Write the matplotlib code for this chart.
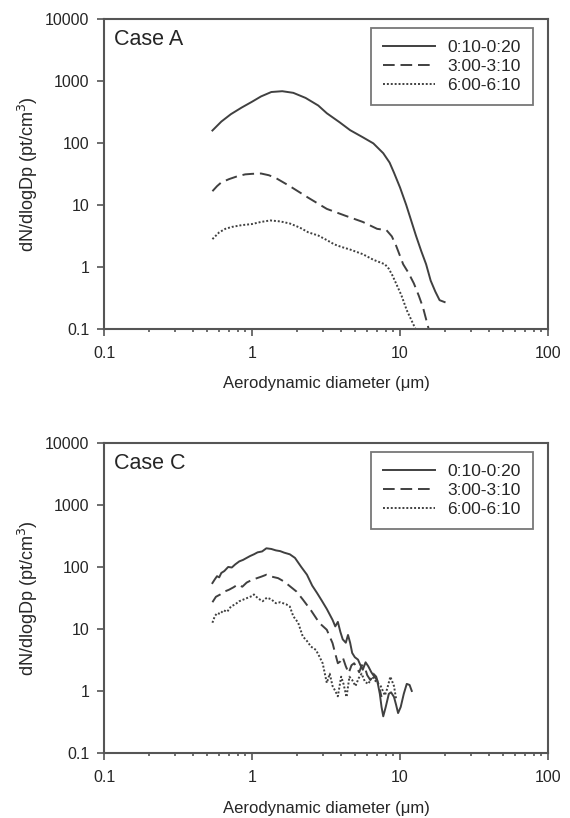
import numpy as np
import matplotlib
matplotlib.use('Agg')
import matplotlib.pyplot as plt
from matplotlib.ticker import LogLocator, FixedFormatter, FixedLocator, NullFormatter

plt.rcParams['font.family'] = ['Liberation Sans', 'DejaVu Sans']

# legend labels
labels = ['0:10-0:20', '3:00-3:10', '6:00-6:10']

# Case A
a1_x = [0.54, 0.62, 0.72, 0.85, 1.0, 1.15, 1.35, 1.6, 1.9, 2.3, 2.8, 3.2, 3.9, 4.6, 5.6, 6.6, 7.7, 8.5, 9.1, 10.0, 11.0, 11.7, 12.8, 13.9, 15.0, 16.1, 17.3, 18.5, 20.0]
a1_y = [158, 220, 290, 370, 460, 560, 660, 680, 640, 530, 400, 300, 215, 160, 123, 98, 68, 48, 33, 19, 10, 6.3, 3.2, 1.8, 1.1, 0.6, 0.4, 0.29, 0.27]

a2_x = [0.54, 0.58, 0.62, 0.7, 0.8, 0.9, 1.0, 1.15, 1.3, 1.45, 1.8, 2.4, 3.2, 4.25, 5.6, 7.0, 8.1, 8.8, 9.4, 10.5, 11.4, 12.4, 13.4, 14.3, 15.6]
a2_y = [16.6, 20, 23, 26, 29, 31, 31.6, 32, 30, 27, 20, 13, 8.6, 6.7, 5.3, 4.1, 3.9, 3.1, 2.2, 1.1, 0.8, 0.54, 0.34, 0.22, 0.1]

a3_x = [0.54, 0.6, 0.66, 0.73, 0.85, 1.0, 1.15, 1.33, 1.55, 1.8, 2.1, 2.4, 2.8, 3.2, 3.6, 4.0, 4.6, 5.6, 6.6, 7.9, 8.4, 8.9, 9.4, 10.2, 11.1, 11.9, 12.7]
a3_y = [2.8, 3.6, 4.1, 4.4, 4.7, 4.9, 5.3, 5.6, 5.4, 5.0, 4.3, 3.6, 3.2, 2.7, 2.3, 2.1, 1.9, 1.6, 1.3, 1.1, 0.93, 0.72, 0.54, 0.35, 0.2, 0.14, 0.1]

# Case C
c1_x = [0.54, 0.56, 0.58, 0.6, 0.62, 0.65, 0.69, 0.73, 0.77, 0.82, 0.87, 0.92, 0.97, 1.03, 1.09, 1.17, 1.25, 1.35, 1.45, 1.55, 1.65, 1.8, 1.95, 2.15, 2.35, 2.55, 2.75, 2.95, 3.2, 3.5, 3.65, 3.8, 3.95, 4.1, 4.3, 4.45, 4.6, 4.75, 4.95, 5.2, 5.4, 5.6, 5.85, 6.1, 6.4, 6.7, 7.0, 7.3, 7.5, 7.7, 8.0, 8.4, 8.7, 9.1, 9.4, 9.7, 10.1, 10.6, 11.1, 11.6, 12.0]
c1_y = [55, 63, 71, 68, 80, 86, 100, 98, 110, 123, 130, 140, 150, 160, 172, 178, 200, 195, 185, 180, 170, 160, 140, 100, 75, 50, 38, 29, 21, 14, 11, 13, 9, 6.8, 6.0, 8.0, 6.0, 4.1, 3.5, 3.2, 2.6, 2.2, 2.9, 2.5, 2.0, 1.7, 1.5, 0.9, 0.55, 0.39, 0.55, 0.9, 0.95, 0.8, 0.6, 0.44, 0.55, 0.9, 1.3, 1.25, 1.0]

c2_x = [0.54, 0.57, 0.61, 0.65, 0.7, 0.75, 0.8, 0.86, 0.92, 1.0, 1.08, 1.16, 1.25, 1.35, 1.5, 1.65, 1.8, 2.0, 2.2, 2.5, 2.85, 3.2, 3.5, 3.65, 3.8, 3.95, 4.1, 4.3, 4.5, 4.7, 4.9, 5.3, 5.5, 5.75, 6.0, 6.3, 6.6, 6.9, 7.2, 7.5]
c2_y = [27, 33, 36, 40, 43, 47, 52, 48, 56, 62, 66, 70, 75, 70, 66, 58, 49, 40, 30, 20, 12.5, 9.7, 5.9, 4.0, 2.8, 3.0, 3.5, 2.5, 1.95, 2.6, 2.8, 2.0, 2.6, 2.5, 1.8, 1.5, 1.9, 1.7, 1.2, 0.8]

c3_x = [0.54, 0.56, 0.58, 0.61, 0.64, 0.68, 0.72, 0.77, 0.82, 0.88, 0.94, 1.0, 1.03, 1.1, 1.18, 1.26, 1.35, 1.45, 1.55, 1.7, 1.8, 1.9, 2.05, 2.2, 2.35, 2.5, 2.7, 2.85, 3.0, 3.2, 3.35, 3.5, 3.65, 3.8, 4.0, 4.15, 4.35, 4.55, 4.75, 5.0, 5.25, 5.5, 5.8, 6.1, 6.5, 6.9, 7.4, 7.9, 8.2, 8.6, 9.1, 9.4]
c3_y = [12.6, 16, 18, 17.5, 20, 19, 23, 25, 28, 30, 32, 34, 36, 31, 28, 32, 30, 26, 27, 25, 23, 16, 12.6, 7.6, 6.4, 5.2, 4.6, 3.6, 2.8, 1.35, 1.9, 1.2, 1.0, 0.82, 1.7, 1.3, 0.8, 1.7, 1.5, 1.2, 1.6, 1.9, 1.4, 1.3, 1.7, 1.4, 1.2, 0.85, 1.1, 1.7, 1.2, 0.75]

xticks = [0.1, 1, 10, 100]
xticklabels = ['0.1', '1', '10', '100']
yticks = [0.1, 1, 10, 100, 1000, 10000]
yticklabels = ['0.1', '1', '10', '100', '1000', '10000']

ink = '#404040'
txt = '#262626'
styles = [dict(ls='-'), dict(ls=(0, (6, 3))), dict(ls=(0, (1, 1)))]

fig = plt.figure(figsize=(5.7, 8.18), dpi=100)
ax_a = fig.add_axes([0.1825, 0.598, 0.779, 0.379])
ax_c = fig.add_axes([0.1825, 0.0795, 0.779, 0.379])

panels = [(ax_a, 'Case A', [(a1_x, a1_y), (a2_x, a2_y), (a3_x, a3_y)]),
          (ax_c, 'Case C', [(c1_x, c1_y), (c2_x, c2_y), (c3_x, c3_y)])]

for ax, title, series in panels:
    for (x, y), st, lab in zip(series, styles, labels):
        ax.plot(x, y, color=ink, lw=1.4, label=lab, **st)
    ax.set_xscale('log')
    ax.set_yscale('log')
    ax.set_xlim(0.1, 100)
    ax.set_ylim(0.1, 10000)
    ax.xaxis.set_major_locator(FixedLocator(xticks))
    ax.xaxis.set_major_formatter(FixedFormatter(xticklabels))
    ax.xaxis.set_minor_locator(LogLocator(base=10, subs=np.arange(2, 10)))
    ax.xaxis.set_minor_formatter(NullFormatter())
    ax.yaxis.set_major_locator(FixedLocator(yticks))
    ax.yaxis.set_major_formatter(FixedFormatter(yticklabels))
    ax.yaxis.set_minor_locator(FixedLocator([]))
    ax.tick_params(which='major', direction='out', length=5, width=1.2, color='#555555',
                   labelsize=11.5, labelcolor=txt)
    ax.tick_params(axis='x', which='major', pad=7)
    ax.tick_params(axis='y', which='major', pad=5.5)
    ax.tick_params(which='minor', direction='out', length=2.5, width=1.2, color='#555555')
    for s in ax.spines.values():
        s.set_color('#555555')
        s.set_linewidth(1.5)
    ax.text(0.023, 0.968, title, transform=ax.transAxes, fontsize=15.5, va='top', ha='left', color=txt)
    ax.set_xlabel('Aerodynamic diameter (\u03bcm)', fontsize=12, color=txt, labelpad=11.5)
    ax.set_ylabel('dN/dlogDp (pt/cm$^3$)', fontsize=13, color=txt, labelpad=3.5)
    leg = ax.legend(loc='upper right', bbox_to_anchor=(0.966, 0.971), fontsize=12.5, handlelength=3.0,
                    frameon=True, fancybox=False, borderpad=0.7, labelspacing=0.22, handletextpad=0.7,
                    borderaxespad=0)
    leg.get_frame().set_edgecolor('#555555')
    leg.get_frame().set_linewidth(1.3)
    for t in leg.get_texts():
        t.set_color(txt)

fig.savefig('out.png', dpi=100)
